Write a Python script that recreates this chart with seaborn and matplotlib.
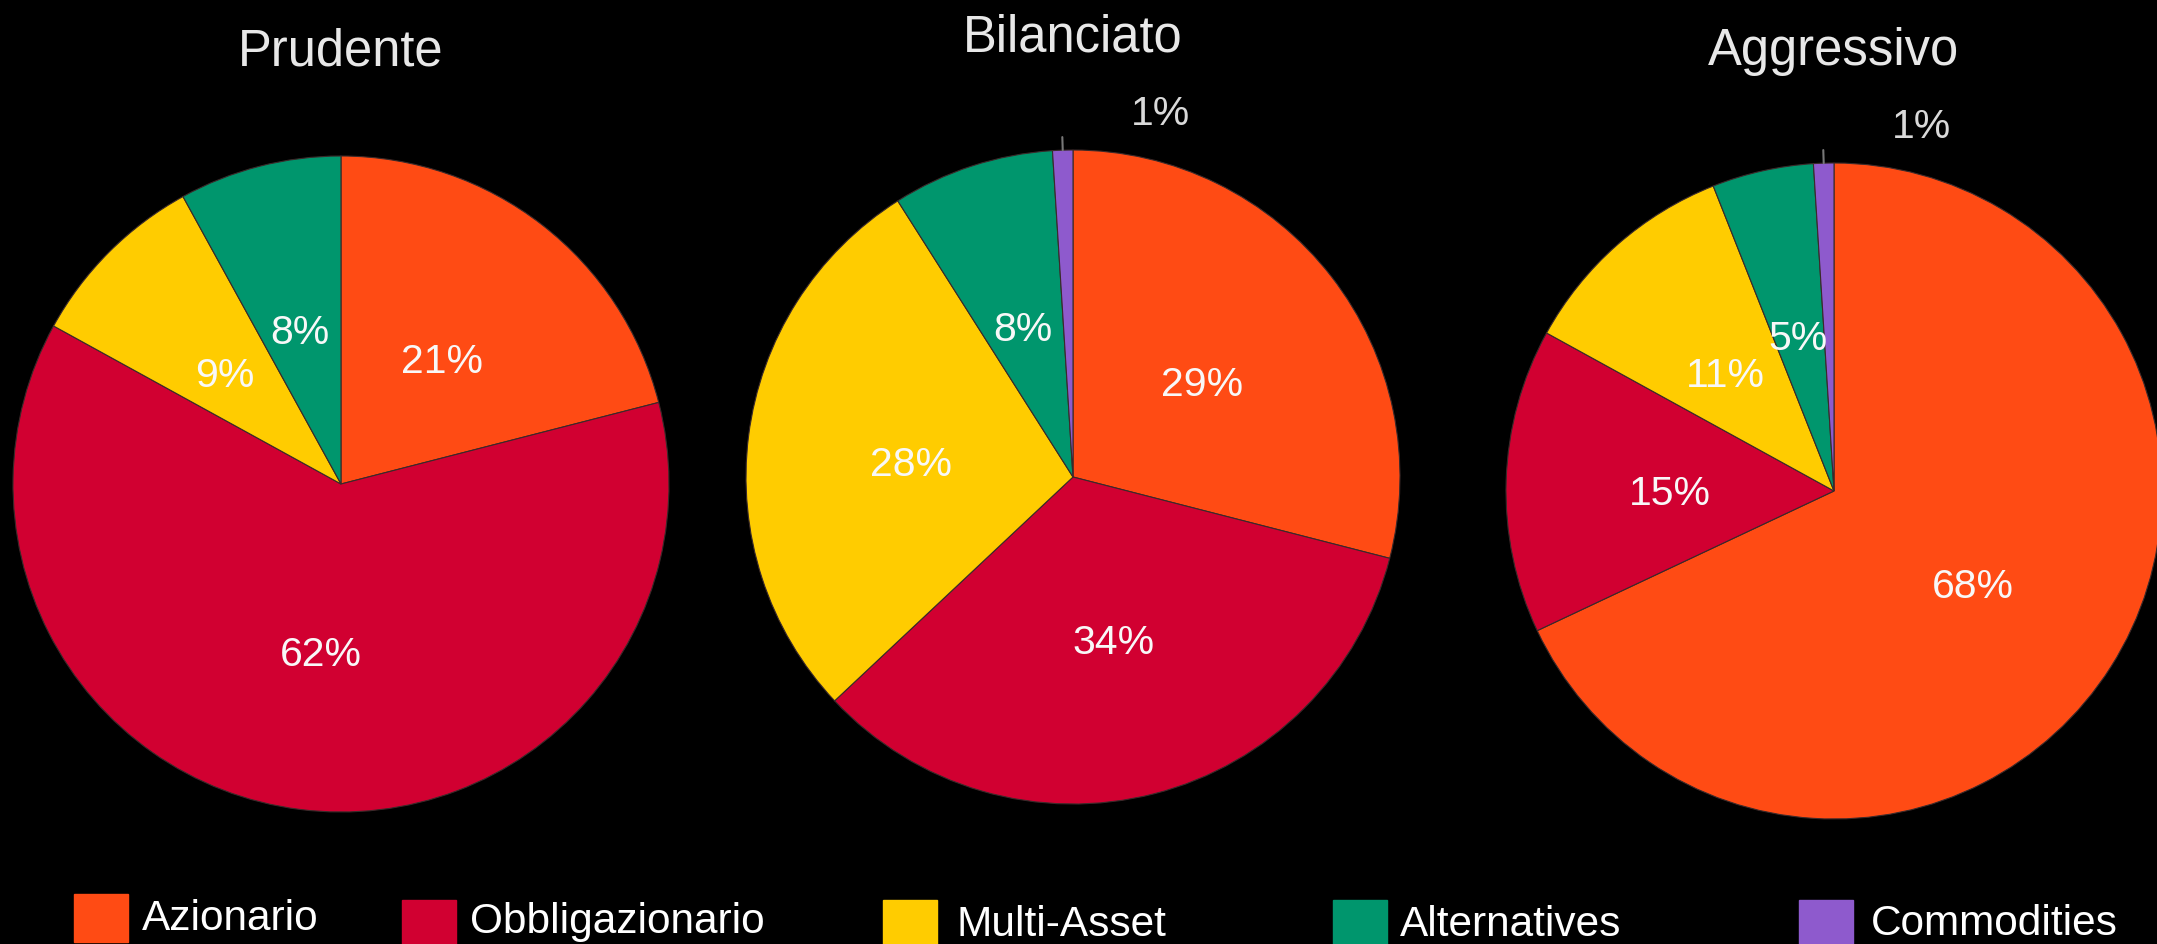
import numpy as np
import matplotlib
matplotlib.use('Agg')
import matplotlib.pyplot as plt
import seaborn as sns
from matplotlib.patches import Rectangle

# Data
funds = ['Prudente', 'Bilanciato', 'Aggressivo']
categories = ['Azionario', 'Obbligazionario', 'Multi-Asset', 'Alternatives', 'Commodities']
prudente = [21, 62, 9, 8, 0]
bilanciato = [29, 34, 28, 8, 1]
aggressivo = [68, 15, 11, 5, 1]
colors = ['#ff4b14', '#d10031', '#ffcc00', '#00966d', '#8e5acd']

sns.set_theme(style='white')
plt.rcParams['font.family'] = ['Liberation Sans', 'DejaVu Sans']

W, H = 2157, 944
fig = plt.figure(figsize=(W / 100, H / 100), dpi=100, facecolor='black')
ax = fig.add_axes([0, 0, 1, 1])
ax.set_facecolor('black')

# pie centre (x, y from top), radius, title baseline (from top) in pixels
layout = [(341, 484, 328, 66), (1073, 477, 327, 52), (1834, 491, 328, 65)]

for name, values, (cx, cy_top, r, ty) in zip(funds, [prudente, bilanciato, aggressivo], layout):
    cy = H - cy_top
    vals = [v for v in values if v > 0]
    cols = [c for v, c in zip(values, colors) if v > 0]
    wedges, texts, autotexts = ax.pie(
        vals, colors=cols, startangle=90, counterclock=False,
        center=(cx, cy), radius=r,
        autopct=lambda p: f'{p:.0f}%' if p >= 2 else '',
        pctdistance=0.5,
        wedgeprops=dict(edgecolor='#3a2a2a', linewidth=0.8),
        textprops=dict(color='#f8f8f8', fontsize=29.5))
    # labels sit a little lower in the original
    for t in autotexts:
        x, y = t.get_position()
        t.set_position((x, y - 8))

    # small slices get an outside label with a short leader line
    for w, v in zip(wedges, vals):
        if v / sum(vals) * 100 < 2:
            ang = np.deg2rad((w.theta1 + w.theta2) / 2)
            x0, y0 = cx + r * np.cos(ang), cy + r * np.sin(ang)
            x1, y1 = cx + 1.04 * r * np.cos(ang), cy + 1.04 * r * np.sin(ang)
            ax.plot([x0, x1], [y0, y1], color='#777777', lw=1.5)
            ax.text(x1 + 0.21 * r, cy + 1.11 * r, f'{v}%', color='#d9d9d9',
                    fontsize=29.5, ha='left', va='center')

    ax.text(cx, H - ty, name, color='#e8e8e8', fontsize=36.5, ha='center', va='baseline')

# legend along the bottom edge: patch x, patch top, patch bottom, text x, text baseline
legend_pos = [(74, 894, 942, 142, 930), (402, 900, 944, 470, 933),
              (883, 900, 944, 956, 936), (1333, 900, 944, 1400, 936),
              (1799, 900, 944, 1871, 935)]
for cat, col, (px, top, bot, tx, tb) in zip(categories, colors, legend_pos):
    ax.add_patch(Rectangle((px, H - bot), 54, bot - top, color=col, clip_on=False))
    ax.text(tx, H - tb, cat, color='white', fontsize=30.5, ha='left', va='baseline')

ax.set_xlim(0, W)
ax.set_ylim(0, H)
ax.set_aspect('equal')
ax.axis('off')

fig.savefig('out.png', dpi=100, facecolor='black')
